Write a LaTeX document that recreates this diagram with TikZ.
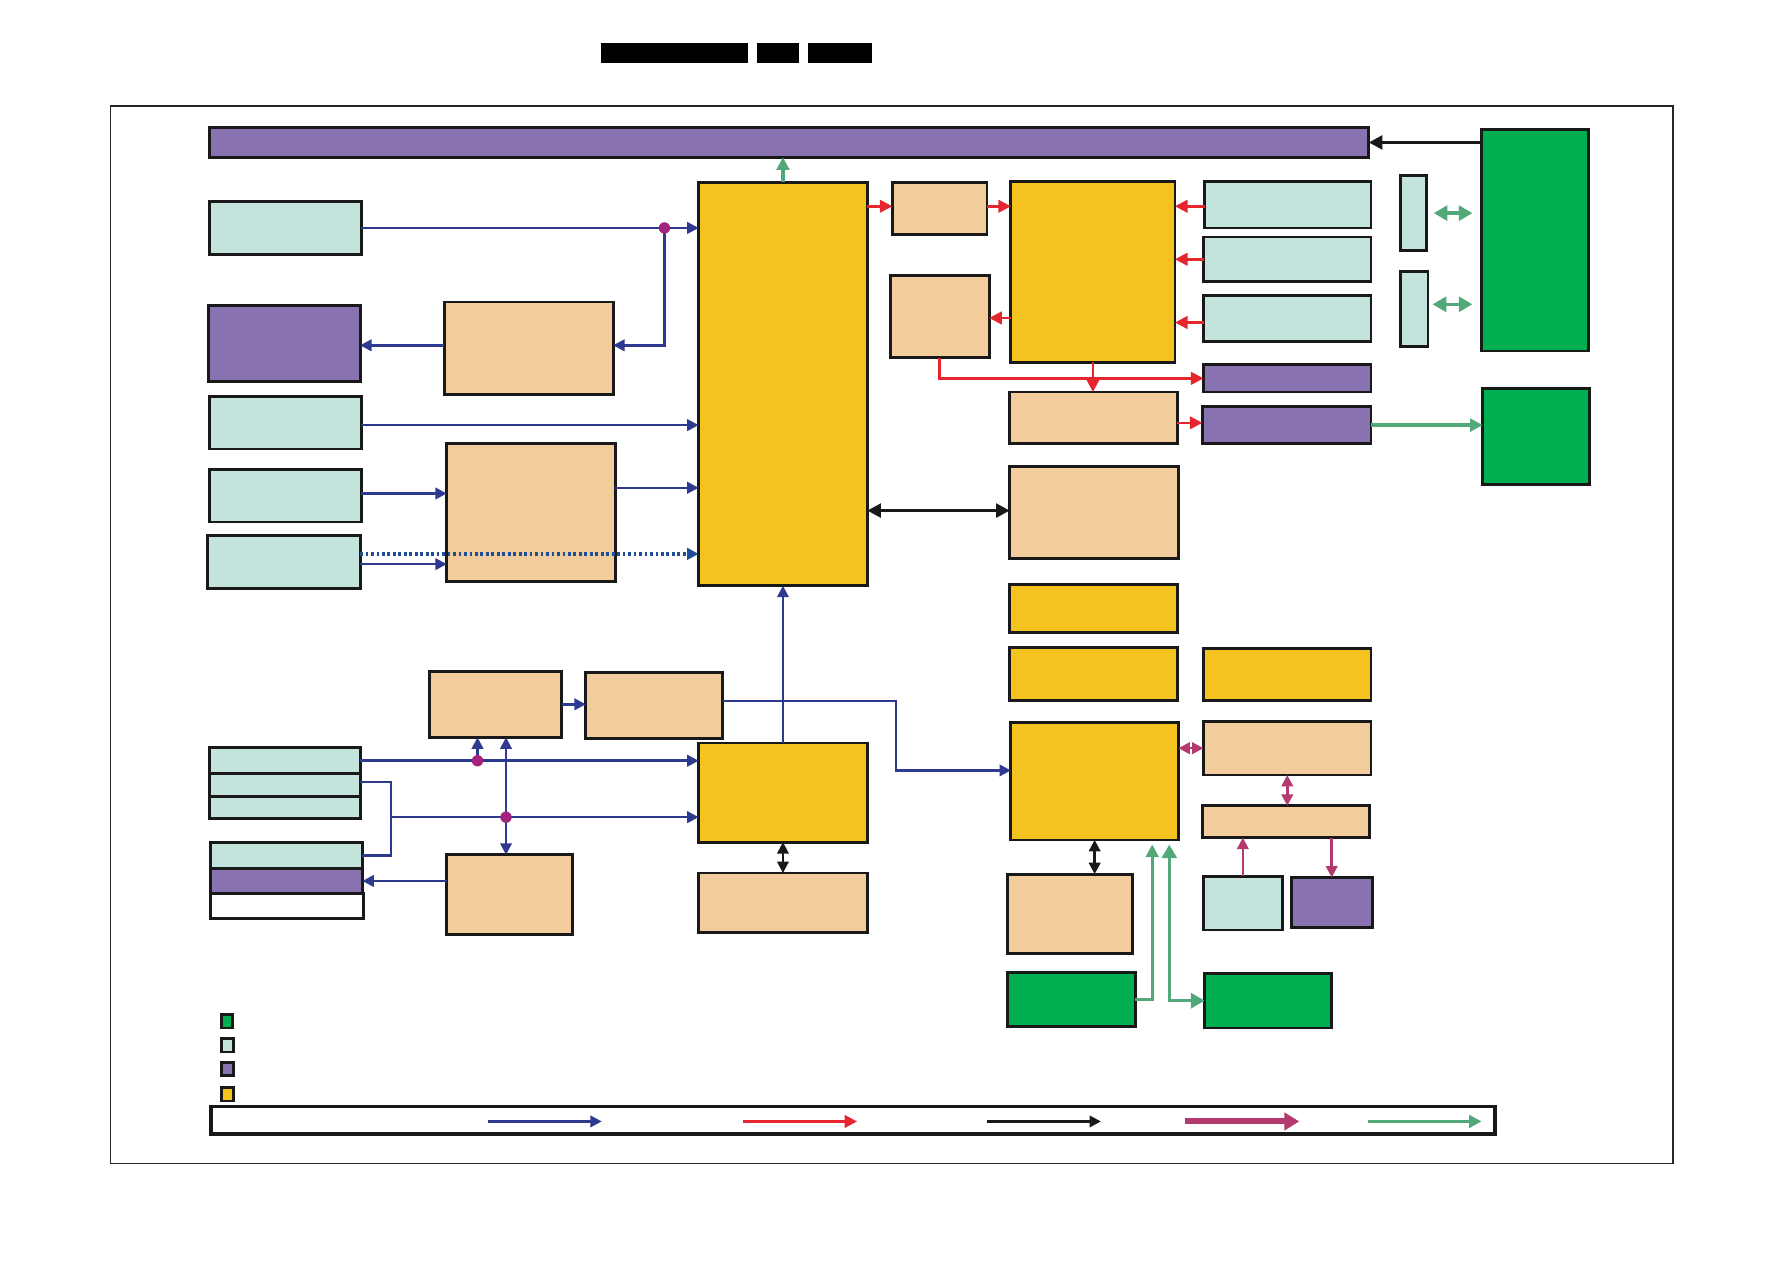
\documentclass[tikz,border=0pt]{standalone}
\usetikzlibrary{arrows.meta,fit,calc}
\definecolor{cpur}{HTML}{8872B0}
\definecolor{ccy}{HTML}{C3E3DD}
\definecolor{cor}{HTML}{F3CC9C}
\definecolor{cye}{HTML}{F5C31F}
\definecolor{cgr}{HTML}{00AF4F}
\definecolor{cbl}{HTML}{2E3A8F}
\definecolor{cdt}{HTML}{1F4E96}
\definecolor{crd}{HTML}{E5262E}
\definecolor{cmg}{HTML}{B23A6E}
\definecolor{cga}{HTML}{52A878}
\definecolor{cdot}{HTML}{A3237F}
\tikzset{
  box/.style={draw=black!90,line width=1.25pt,inner sep=0pt,outer sep=0pt},
  cyb/.style={box,fill=ccy},
  pub/.style={box,fill=cpur},
  orb/.style={box,fill=cor},
  yeb/.style={box,fill=cye},
  grb/.style={box,fill=cgr},
  whb/.style={box,fill=white},
  blk/.style={fill=black,draw=none,inner sep=0pt,outer sep=0pt},
  bl/.style={draw=cbl,line width=1.1pt,-{Triangle[length=5pt,width=5pt]}},
  blp/.style={draw=cbl,line width=1.1pt},
  rd/.style={draw=crd,line width=1.1pt,-{Triangle[length=5.5pt,width=5.5pt]}},
  bk/.style={draw=black!90,line width=1.6pt,{Triangle[length=6pt,width=6pt]}-{Triangle[length=6pt,width=6pt]}},
  bkone/.style={draw=black!90,line width=1.6pt,-{Triangle[length=6pt,width=6pt]}},
  bkthin/.style={draw=black!90,line width=1.1pt,{Triangle[length=5pt,width=5pt]}-{Triangle[length=5pt,width=5pt]}},
  mg/.style={draw=cmg,line width=1.1pt,{Triangle[length=5pt,width=5pt]}-{Triangle[length=5pt,width=5pt]}},
  mgone/.style={draw=cmg,line width=1.1pt,-{Triangle[length=5pt,width=5pt]}},
  ga/.style={draw=cga,line width=1.5pt,-{Triangle[length=5.5pt,width=5.5pt]}},
  gab/.style={draw=cga,line width=1.5pt,{Triangle[length=6pt,width=6.5pt]}-{Triangle[length=6pt,width=6.5pt]}},
  jdot/.style={fill=cdot,draw=none,circle,minimum size=5pt,inner sep=0pt}
}
\newcommand\bx[6]{\node[#2,fit={(#3,#4)(#5,#6)}] (#1) {};}
\begin{document}
\begin{tikzpicture}[x=0.5pt,y=-0.5pt]
\useasboundingbox (0,0) rectangle (1568,1108);
% header bars
\bx{h1}{blk}{527}{38}{656}{55}
\bx{h2}{blk}{664}{38}{701}{55}
\bx{h3}{blk}{709}{38}{765}{55}
% frame
\node[draw=black!85,line width=0.6pt,inner sep=0pt,outer sep=0pt,fit={(97,93)(1468,1021)}] (frame) {};
% top bar
\bx{top}{pub}{184}{112}{1201}{138}
% right greens
\bx{g1}{grb}{1300}{114}{1394}{308}
\bx{g2}{grb}{1301}{341}{1395}{425}
\bx{s1}{cyb}{1229}{154}{1252}{220}
\bx{s2}{cyb}{1229}{238}{1253}{304}
% left column
\bx{c1}{cyb}{184}{177}{317}{223}
\bx{p1}{pub}{183}{268}{316}{335}
\bx{c2}{cyb}{184}{348}{317}{394}
\bx{c3}{cyb}{184}{412}{317}{458}
\bx{c4}{cyb}{182}{470}{316}{516}
\bx{o1}{orb}{390}{265}{538}{346}
\bx{o2}{orb}{392}{389}{540}{510}
\bx{y1}{yeb}{613}{160}{761}{514}
% right of y1
\bx{o3}{orb}{783}{160}{866}{206}
\bx{y2}{yeb}{887}{159}{1031}{318}
\bx{o4}{orb}{781}{242}{868}{314}
\bx{r1}{cyb}{1057}{159}{1203}{200}
\bx{r2}{cyb}{1056}{208}{1203}{247}
\bx{r3}{cyb}{1056}{259}{1203}{300}
\bx{pr1}{pub}{1056}{320}{1203}{344}
\bx{pr2}{pub}{1055}{357}{1203}{389}
\bx{o5}{orb}{886}{344}{1033}{389}
\bx{o6}{orb}{886}{409}{1034}{490}
\bx{y3}{yeb}{886}{513}{1033}{555}
\bx{y4}{yeb}{886}{568}{1033}{615}
\bx{y5}{yeb}{1056}{569}{1203}{615}
\bx{y6}{yeb}{887}{634}{1034}{737}
\bx{o7}{orb}{1056}{633}{1203}{680}
\bx{o8}{orb}{1055}{707}{1202}{735}
\bx{sc}{cyb}{1056}{769}{1125}{816}
\bx{sp}{pub}{1133}{770}{1204}{814}
\bx{o9}{orb}{884}{767}{994}{837}
\bx{g3}{grb}{884}{853}{996}{901}
\bx{g4}{grb}{1057}{854}{1168}{902}
% lower left
\bx{o10}{orb}{377}{589}{493}{647}
\bx{o11}{orb}{514}{590}{634}{648}
\bx{y7}{yeb}{613}{652}{761}{739}
\bx{o12}{orb}{613}{766}{761}{818}
\bx{k1}{cyb}{184}{656}{316}{679}
\bx{k2}{cyb}{184}{679}{316}{699}
\bx{k3}{cyb}{184}{699}{316}{718}
\bx{m1}{cyb}{185}{739}{318}{762}
\bx{m2}{pub}{185}{762}{318}{784}
\bx{m3}{whb}{185}{784}{319}{806}
\bx{o13}{orb}{392}{750}{502}{820}
% legend
\bx{l1}{grb}{194}{890}{204}{902}
\bx{l2}{cyb}{194}{911}{205}{923}
\bx{l3}{pub}{194}{932}{205}{944}
\bx{l4}{yeb}{194}{954}{205}{966}
\node[draw=black!90,line width=1.6pt,fill=white,inner sep=0pt,outer sep=0pt,fit={(185,971)(1312,995)}] (lb) {};
% ---- connectors ----
% top area
\draw[ga] (y1.north) -- (y1.north |- top.south);
\draw[bkone] (g1.west |- top.east) -- (top.east);
\draw[gab,shorten <=3pt,shorten >=4pt] (s1.east) -- (g1.west |- s1.east);
\draw[gab,shorten <=2pt,shorten >=4pt] (s2.east |- 0,267) -- (g1.west |- 0,267);
\draw[ga] (pr2.east) -- (g2.west |- pr2.east);
% left blue
\coordinate (d1) at (583,200);
\draw[bl] (c1.east) -- (y1.west |- c1.east);
\draw[bl] (d1) |- (o1.east |- 0,303);
\draw[bl] (o1.west |- 0,303) -- (p1.east |- 0,303);
\draw[bl] (c2.east |- 0,373) -- (y1.west |- 0,373);
\draw[bl] (c3.east |- 0,433) -- (o2.west |- 0,433);
\draw[bl] (o2.east |- 0,428) -- (y1.west |- 0,428);
\draw[draw=cdt,line width=1.5pt,dash pattern=on 1.2pt off 1.2pt,-{Triangle[length=5pt,width=5pt]}] (c4.east |- 0,486) -- (y1.west |- 0,486);
\draw[bl] (c4.east |- 0,495) -- (o2.west |- 0,495);
\node[jdot] (dot1) at (d1) {};
% red
\draw[rd] (y1.east |- 0,181) -- (o3.west |- 0,181);
\draw[rd] (o3.east |- 0,181) -- (y2.west |- 0,181);
\draw[rd] (y2.west |- 0,279) -- (o4.east |- 0,279);
\draw[rd] (r1.west |- 0,181) -- (y2.east |- 0,181);
\draw[rd] (r2.west) -- (y2.east |- r2.west);
\draw[rd] (r3.west |- 0,283) -- (y2.east |- 0,283);
\draw[rd] (o4.south) |- (pr1.west);
\draw[rd] (y2.south) -- (y2.south |- o5.north);
\draw[rd] (o5.east |- 0,371) -- (pr2.west |- 0,371);
% black double
\draw[bk] (y1.east |- 0,448) -- (o6.west |- 0,448);
% magenta
\draw[mg] (y6.east |- o7.west) -- (o7.west);
\draw[mg] (o7.south) -- (o7.south |- o8.north);
\draw[mgone] (sc.north) -- (o8.south -| sc.north);
\draw[mgone] (o8.south -| sp.north) -- (sp.north);
% bottom right
\draw[bkthin] (y6.south) -- (y6.south |- o9.north);
\draw[ga,shorten >=2pt] (g3.east) -| (y6.south -| 1011,0);
\draw[gab,shorten <=2pt] (y6.south -| 1026,0) |- (g4.west);
% lower left blue
\draw[bl] (o10.east) -- (o11.west |- o10.east);
\draw[bl] (o11.east |- 0,615) -- (786,615) |- (y6.west |- 0,676);
\draw[bl] (y7.north) -- (y7.north |- y1.south);
\draw[bkthin] (y7.south) -- (y7.south |- o12.north);
\coordinate (dA) at (419,667.5);
\coordinate (dB) at (444,717);
\coordinate (jn) at (343,717);
\draw[bl] (k1.east) -- (y7.west |- k1.east);
\draw[bl] (dA) -- (dA |- o10.south);
\draw[blp,{Triangle[length=5pt,width=5pt]}-{Triangle[length=5pt,width=5pt]}] (o10.south -| dB) -- (o13.north -| dB);
\draw[blp] (k2.east |- 0,686) -- (343,686) |- (m1.east);
\draw[bl] (jn) -- (y7.west |- jn);
\draw[bl] (o13.west |- m2.east) -- (m2.east);
\node[jdot] (dot2) at (dA) {};
\node[jdot] (dot3) at (dB) {};
% legend arrows
\coordinate (a1) at (428,984); \coordinate (a2) at (528,984);
\coordinate (a3) at (652,984); \coordinate (a4) at (752,984);
\coordinate (a5) at (866,984); \coordinate (a6) at (966,984);
\coordinate (a7) at (1040,984); \coordinate (a8) at (1140,984);
\coordinate (a9) at (1200,984); \coordinate (a10) at (1300,984);
\draw[bl] (a1) -- (a2);
\draw[rd] (a3) -- (a4);
\draw[draw=black!90,line width=1.1pt,-{Triangle[length=5pt,width=5pt]}] (a5) -- (a6);
\draw[draw=cmg,line width=2.6pt,-{Triangle[length=6.5pt,width=7.5pt]}] (a7) -- (a8);
\draw[ga] (a9) -- (a10);
\end{tikzpicture}
\end{document}
